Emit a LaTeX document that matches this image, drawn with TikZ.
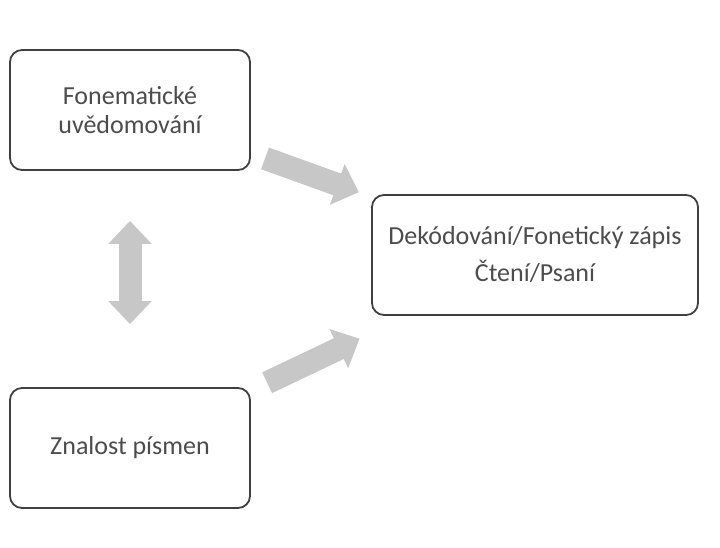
\documentclass[tikz,border=0pt]{standalone}
\usepackage{fontspec}
\setmainfont{Carlito}
\usetikzlibrary{arrows.meta}

\tikzset{bigtip/.tip={Triangle[width=42pt, length=23pt]}}

\begin{document}
\begin{tikzpicture}[x=1pt, y=-1pt,
    box/.style={draw=black!75, line width=1.8pt, rounded corners=12pt, minimum height=120pt,
      align=center, text=black!70, font=\fontsize{26}{29}\selectfont},
    fat/.style={draw=black!22, line width=23pt}]
    \useasboundingbox (0,0) rectangle (720,547);
    \node[box, minimum width=240pt] (fon) at (130,110) {Fonematické\\uvědomování};
    \node[box, minimum width=240pt] (znal) at (130,448) {Znalost písmen};
    \node[box, minimum width=326pt] (dek) at (535,255) {Dekódování/Fonetický zápis\\[8pt]Čtení/Psaní};
    \draw[fat, -bigtip, shorten <=15pt, shorten >=13pt] (fon) -- (dek);
    \draw[fat, -bigtip, shorten <=18pt, shorten >=53pt] (znal) -- (dek);
    \draw[fat, bigtip-bigtip, shorten <=50pt, shorten >=63pt] (fon) -- (znal);
\end{tikzpicture}
\end{document}
